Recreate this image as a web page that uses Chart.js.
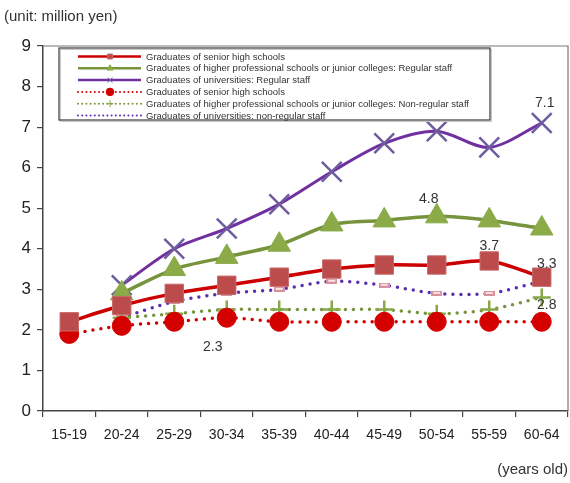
<!DOCTYPE html>
<html>
<head>
<meta charset="utf-8">
<script src="https://cdn.jsdelivr.net/npm/chart.js@4.4.1/dist/chart.umd.min.js"></script>
<style>
  html, body { margin: 0; padding: 0; background: #ffffff; }
  canvas { display: block; }
</style>
</head>
<body>
<canvas id="chart" width="570" height="483"></canvas>
<script>
// Age groups on the horizontal axis
const ageGroups = ['15-19', '20-24', '25-29', '30-34', '35-39', '40-44', '45-49', '50-54', '55-59', '60-64'];

// Annual wages, million yen — regular staff
const highSchoolRegular   = [2.2, 2.6, 2.9, 3.1, 3.3, 3.5, 3.6, 3.6, 3.7, 3.3];
const collegeRegular      = [null, 2.9, 3.5, 3.8, 4.1, 4.6, 4.7, 4.8, 4.7, 4.5];
const universityRegular   = [null, 3.1, 4.0, 4.5, 5.1, 5.9, 6.6, 6.9, 6.5, 7.1];

// Annual wages, million yen — non-regular staff
const highSchoolNonRegular = [1.9, 2.1, 2.2, 2.3, 2.2, 2.2, 2.2, 2.2, 2.2, 2.2];
const collegeNonRegular    = [null, 2.3, 2.4, 2.5, 2.5, 2.5, 2.5, 2.4, 2.5, 2.8];
const universityNonRegular = [null, 2.3, 2.7, 2.9, 3.0, 3.2, 3.1, 2.9, 2.9, 3.2];

const seriesNames = [
  'Graduates of senior high schools',
  'Graduates of higher professional schools or junior colleges: Regular staff',
  'Graduates of universities: Regular staff',
  'Graduates of senior high schools',
  'Graduates of higher professional schools or junior colleges: Non-regular staff',
  'Graduates of universities: non-regular staff'
];

// Value call-outs: which series / which age group
const calloutSeries = [2, 1, 0, 0, 4, 3];
const calloutIndex  = [9, 7, 8, 9, 9, 3];

const unitText = '(unit: million yen)';
const axisUnitText = '(years old)';

// ---- styling ----
const calloutOffsets = [[3, -20], [-8, -17], [0, -15], [5, -13], [5, 8], [-14, 29]];

// small pink bar marker used by the university non-regular series
function barMarker(w, h) {
  const c = document.createElement('canvas');
  c.width = w; c.height = h;
  const g = c.getContext('2d');
  g.fillStyle = '#d9909a';
  g.fillRect(0, 0, w, h);
  g.fillStyle = '#f4e4e6';
  g.fillRect(2, Math.floor(h / 2) - 1, w - 4, 2);
  return c;
}
const pinkBar = barMarker(11, 5);

const DOT = [0, 8];

const datasets = [
  {
    label: seriesNames[0], data: highSchoolRegular,
    borderColor: '#cc0000', borderWidth: 3.5,
    pointStyle: 'rect', pointRadius: 13, pointBackgroundColor: '#bc4b4b',
    pointBorderColor: '#c76a6a', pointBorderWidth: 1, legendMarker: 'rect'
  },
  {
    label: seriesNames[1], data: collegeRegular,
    borderColor: '#77933c', borderWidth: 3.5,
    pointStyle: 'triangle', pointRadius: 13, pointBackgroundColor: '#8aab48',
    pointBorderColor: '#8aab48', pointBorderWidth: 1, legendMarker: 'triangle'
  },
  {
    label: seriesNames[2], data: universityRegular,
    borderColor: '#7030a0', borderWidth: 3,
    pointStyle: 'crossRot', pointRadius: 14, pointBackgroundColor: '#6e5c9e',
    pointBorderColor: '#6e5c9e', pointBorderWidth: 2.5, legendMarker: 'crossRot'
  },
  {
    label: seriesNames[3], data: highSchoolNonRegular,
    borderColor: '#cc0000', borderWidth: 3.5, borderDash: DOT, borderCapStyle: 'round',
    pointStyle: 'circle', pointRadius: 9.5, pointBackgroundColor: '#d40000',
    pointBorderColor: '#d40000', pointBorderWidth: 1, legendMarker: 'circle'
  },
  {
    label: seriesNames[4], data: collegeNonRegular,
    borderColor: '#77933c', borderWidth: 3.5, borderDash: DOT, borderCapStyle: 'round',
    pointStyle: 'cross', pointRadius: 9, pointBackgroundColor: '#86a846',
    pointBorderColor: '#86a846', pointBorderWidth: 2.5, legendMarker: 'cross'
  },
  {
    label: seriesNames[5], data: universityNonRegular,
    borderColor: '#5a2eb0', borderWidth: 3.5, borderDash: DOT, borderCapStyle: 'round',
    pointStyle: pinkBar, pointRadius: 5, legendMarker: null
  }
];
datasets.forEach(d => { d.tension = 0.3; d.fill = false; d.spanGaps = false; d.clip = false; });

const helpers = Chart.helpers || {};

// Frame, legend box, unit captions and value call-outs
const decorations = {
  id: 'decorations',
  afterDraw(chart) {
    const ctx = chart.ctx;
    const a = chart.chartArea;
    ctx.save();

    // top and right frame
    ctx.strokeStyle = '#777777';
    ctx.lineWidth = 1.2;
    ctx.beginPath();
    ctx.moveTo(a.left, a.top);
    ctx.lineTo(a.right, a.top);
    ctx.lineTo(a.right, a.bottom);
    ctx.stroke();

    // captions
    ctx.fillStyle = '#333333';
    ctx.font = '15px Arial, "Liberation Sans", sans-serif';
    ctx.textBaseline = 'middle';
    ctx.textAlign = 'left';
    ctx.fillText(unitText, 4, 17);
    ctx.textAlign = 'right';
    ctx.fillText(axisUnitText, 568, 470);

    // legend box
    const lx = 59, ly = 48, lw = 431, lh = 72;
    ctx.fillStyle = '#ffffff';
    ctx.fillRect(lx, ly, lw, lh);
    ctx.strokeStyle = '#c8c8c8';
    ctx.lineWidth = 1;
    ctx.strokeRect(lx + 1.5, ly + 1.5, lw, lh);
    ctx.strokeStyle = '#3a3a3a';
    ctx.lineWidth = 1.2;
    ctx.strokeRect(lx, ly, lw, lh);

    const rowY0 = 56.5, rowStep = 11.8;
    const sx0 = 78, sx1 = 141, mx = 110;
    chart.data.datasets.forEach((ds, i) => {
      const y = rowY0 + i * rowStep;
      ctx.save();
      ctx.strokeStyle = ds.borderColor;
      ctx.lineWidth = ds.borderDash ? 2 : 2.5;
      if (ds.borderDash) { ctx.setLineDash([0, 4.2]); ctx.lineCap = 'round'; }
      ctx.beginPath();
      ctx.moveTo(sx0, y);
      ctx.lineTo(sx1, y);
      ctx.stroke();
      ctx.restore();
      if (ds.legendMarker && helpers.drawPoint) {
        ctx.save();
        ctx.fillStyle = ds.pointBackgroundColor;
        ctx.strokeStyle = ds.pointBorderColor;
        ctx.lineWidth = 1;
        const r = ds.legendMarker === 'circle' ? 3.8 : 3.5;
        helpers.drawPoint(ctx, { pointStyle: ds.legendMarker, radius: r, rotation: 0, borderWidth: 1 }, mx, y);
        ctx.restore();
      }
      ctx.fillStyle = '#333333';
      ctx.font = '9.5px Arial, "Liberation Sans", sans-serif';
      ctx.textAlign = 'left';
      ctx.textBaseline = 'middle';
      ctx.fillText(ds.label, 146, y + 0.5);
    });

    // value call-outs
    ctx.fillStyle = '#333333';
    ctx.font = '14px Arial, "Liberation Sans", sans-serif';
    ctx.textAlign = 'center';
    ctx.textBaseline = 'middle';
    calloutSeries.forEach((s, k) => {
      const meta = chart.getDatasetMeta(s);
      const pt = meta.data[calloutIndex[k]];
      const v = chart.data.datasets[s].data[calloutIndex[k]];
      ctx.fillText(v.toFixed(1), pt.x + calloutOffsets[k][0], pt.y + calloutOffsets[k][1]);
    });
    ctx.restore();
  }
};

new Chart(document.getElementById('chart'), {
  type: 'line',
  data: { labels: ageGroups, datasets },
  options: {
    responsive: false,
    animation: false,
    devicePixelRatio: 1,
    layout: { autoPadding: false, padding: { top: 46, right: 2, left: 0, bottom: 0 } },
    plugins: { legend: { display: false }, tooltip: { enabled: false } },
    scales: {
      x: {
        type: 'category',
        offset: true,
        grid: { offset: true, drawOnChartArea: false, drawTicks: true, tickLength: 6, color: '#444444', lineWidth: 1.2 },
        border: { display: true, color: '#444444', width: 1.5 },
        ticks: { color: '#222222', font: { size: 14, family: 'Arial, "Liberation Sans", sans-serif' }, padding: 10, maxRotation: 0, autoSkip: false },
        afterFit(scale) { scale.height = 72; scale.paddingLeft = 0; scale.paddingRight = 0; }
      },
      y: {
        min: 0, max: 9,
        grid: { drawOnChartArea: false, drawTicks: true, tickLength: 6, color: '#444444', lineWidth: 1.2 },
        border: { display: true, color: '#444444', width: 1.5 },
        ticks: { stepSize: 1, color: '#222222', font: { size: 17, family: 'Arial, "Liberation Sans", sans-serif' }, padding: 6 },
        afterFit(scale) { scale.width = 43; }
      }
    }
  },
  plugins: [decorations]
});
</script>
</body>
</html>
